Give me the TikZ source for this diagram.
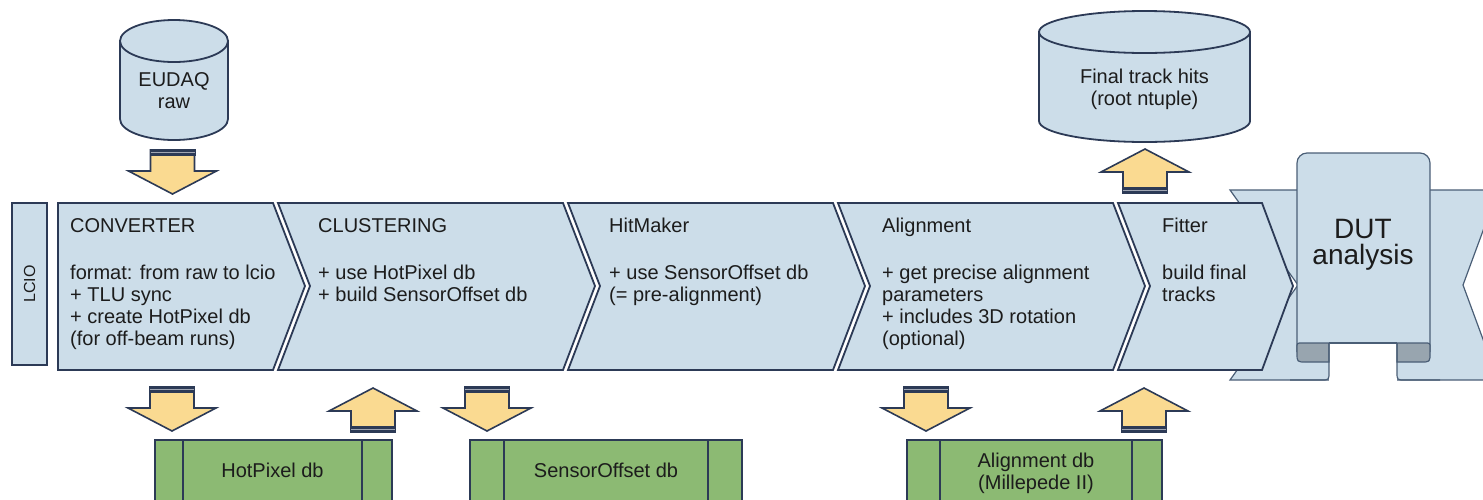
\documentclass[tikz,border=0pt]{standalone}
\usepackage{fontspec}
\setmainfont{Liberation Sans}
\definecolor{navy}{HTML}{2C3A56}
\definecolor{paleblue}{HTML}{CCDDE9}
\definecolor{dbgreen}{HTML}{8CBA73}
\definecolor{arrowyellow}{HTML}{FADA91}
\definecolor{curlgray}{HTML}{98A5AF}
\definecolor{scrollline}{HTML}{4A5E76}
\definecolor{ink}{HTML}{1C1C1C}

\tikzset{
  stage/.style={fill=paleblue, draw=navy, line width=1.8pt, line join=miter},
  stagetitle/.style={anchor=base west, inner sep=0pt, text=ink, font=\fontsize{20}{22}\selectfont},
  stagebody/.style={anchor=north west, inner sep=0pt, align=left, text=ink, font=\fontsize{20}{22}\selectfont},
  store/.style={fill=paleblue, draw=navy, line width=1.8pt},
  dbbox/.style={fill=dbgreen, draw=navy, line width=1.8pt},
  label/.style={inner sep=0pt, align=center, text=ink, font=\fontsize{20}{22}\selectfont},
  scrollpart/.style={draw=scrollline, line width=1.2pt},
  pics/downarrow/.style={code={
    \filldraw[fill=arrowyellow, draw=navy, line width=1.6pt, line join=miter]
      (-22,0) -- (22,0) -- (22,21) -- (44,21) -- (0,44) -- (-44,21) -- (-22,21) -- cycle;
    \fill[navy] (-23,-1) rectangle (23,6);
    \draw[navy!45!white, line width=0.7pt] (-22,2.8) -- (22,2.8);
  }},
  pics/uparrow/.style={code={
    \filldraw[fill=arrowyellow, draw=navy, line width=1.6pt, line join=miter]
      (-22,0) -- (22,0) -- (22,-21) -- (44,-21) -- (0,-44) -- (-44,-21) -- (-22,-21) -- cycle;
    \fill[navy] (-23,1) rectangle (23,-6);
    \draw[navy!45!white, line width=0.7pt] (-22,-2.8) -- (22,-2.8);
  }},
}

\begin{document}
\begin{tikzpicture}[x=1pt, y=-1pt]
\path[use as bounding box] (0,0) rectangle (1483,499);
\clip (0,0) rectangle (1483,499);

% ---------- ribbon and scroll (DUT analysis) ----------
\filldraw[fill=paleblue, scrollpart]
  (1230,190) -- (1498,190) -- (1463,285) -- (1498,380) -- (1230,380) -- (1298,285) -- cycle;
\filldraw[fill=paleblue, scrollpart, rounded corners=10pt]
  (1297,352) -- (1297,153) -- (1430,153) -- (1430,352);
\fill[white] (1329,343) rectangle (1397,386);
% left curl
\filldraw[fill=curlgray, scrollpart]
  (1329,343) -- (1302,343) .. controls (1297,343) .. (1297,348) -- (1297,353)
  .. controls (1297,362) .. (1306,362) -- (1329,362) -- cycle;
\draw[scrollpart] (1329,343) -- (1329,372) .. controls (1329,380) .. (1321,380) -- (1290,380);
% right curl
\filldraw[fill=curlgray, scrollpart]
  (1397,343) -- (1425,343) .. controls (1430,343) .. (1430,348) -- (1430,353)
  .. controls (1430,362) .. (1421,362) -- (1397,362) -- cycle;
\draw[scrollpart] (1397,343) -- (1397,372) .. controls (1397,380) .. (1405,380) -- (1440,380);
\draw[scrollpart] (1329,343) -- (1397,343);
\node[inner sep=0pt, align=center, text=ink, font=\fontsize{28}{26}\selectfont]
  (dut) at (1363,245) {DUT\\analysis};

% ---------- LCIO bar ----------
\filldraw[stage] (12,203) rectangle (47,365);
\node[rotate=90, inner sep=0pt, text=ink, font=\fontsize{16}{18}\selectfont] (lcio) at (29.5,284) {LCIO};

% ---------- processing stages ----------
\filldraw[stage] (58,203) -- (273,203) -- (305,286) -- (273,370) -- (58,370) -- cycle;
\filldraw[stage] (278,203) -- (563,203) -- (595,286) -- (563,370) -- (278,370) -- (310,286) -- cycle;
\filldraw[stage] (568,203) -- (833,203) -- (865,286) -- (833,370) -- (568,370) -- (600,286) -- cycle;
\filldraw[stage] (838,203) -- (1113,203) -- (1145,286) -- (1113,370) -- (838,370) -- (870,286) -- cycle;
\filldraw[stage] (1118,203) -- (1262,203) -- (1293,286) -- (1262,370) -- (1118,370) -- (1150,286) -- cycle;

\node[stagetitle] (conv) at (70,232) {CONVERTER};
\node[stagebody] (convtxt) at (70,264) {\rule{0pt}{15pt}format: from raw to lcio\\+ TLU sync\\+ create HotPixel db\\(for off-beam runs)};
\node[stagetitle] (clus) at (318,232) {CLUSTERING};
\node[stagebody] (clustxt) at (318,264) {\rule{0pt}{15pt}+ use HotPixel db\\+ build SensorOffset db};
\node[stagetitle] (hitm) at (609,232) {HitMaker};
\node[stagebody] (hitmtxt) at (609,264) {\rule{0pt}{15pt}+ use SensorOffset db\\(= pre-alignment)};
\node[stagetitle] (algn) at (882,232) {Alignment};
\node[stagebody] (algntxt) at (882,264) {\rule{0pt}{15pt}+ get precise alignment\\parameters\\+ includes 3D rotation\\(optional)};
\node[stagetitle] (fitt) at (1162,232) {Fitter};
\node[stagebody] (fitttxt) at (1162,264) {\rule{0pt}{15pt}build final\\tracks};

% ---------- data stores ----------
\filldraw[store] (120,41) -- (120,119) arc[start angle=180, end angle=0, x radius=54, y radius=21] -- (228,41) -- cycle;
\filldraw[store] (174,41) ellipse [x radius=54, y radius=21];
\node[label, anchor=north] (eudaq) at (174,71) {\rule{0pt}{15pt}EUDAQ\\raw};

\filldraw[store] (1039,32) -- (1039,121) arc[start angle=180, end angle=0, x radius=105.5, y radius=21] -- (1250,32) -- cycle;
\filldraw[store] (1144.5,32) ellipse [x radius=105.5, y radius=21];
\node[label, anchor=north] (ntuple) at (1144.5,68) {\rule{0pt}{15pt}Final track hits\\(root ntuple)};

% ---------- databases ----------
\filldraw[dbbox] (155,440) rectangle (392,520);
\draw[navy, line width=1.8pt] (183,440) -- (183,520) (362,440) -- (362,520);
\node[label, anchor=base] (hotpix) at (272.5,477) {HotPixel db};

\filldraw[dbbox] (470,440) rectangle (742,520);
\draw[navy, line width=1.8pt] (504,440) -- (504,520) (708,440) -- (708,520);
\node[label, anchor=base] (sensoff) at (606,477) {SensorOffset db};

\filldraw[dbbox] (907,440) rectangle (1162,520);
\draw[navy, line width=1.8pt] (940,440) -- (940,520) (1132,440) -- (1132,520);
\node[label, anchor=north] (aligndb) at (1036,452) {\rule{0pt}{15pt}Alignment db\\(Millepede II)};

% ---------- block arrows ----------
\pic at (172.5,150) {downarrow};
\pic at (1145,193) {uparrow};
\pic at (172,387) {downarrow};
\pic at (373,432) {uparrow};
\pic at (487,387) {downarrow};
\pic at (926,387) {downarrow};
\pic at (1144,432) {uparrow};
\end{tikzpicture}
\end{document}
